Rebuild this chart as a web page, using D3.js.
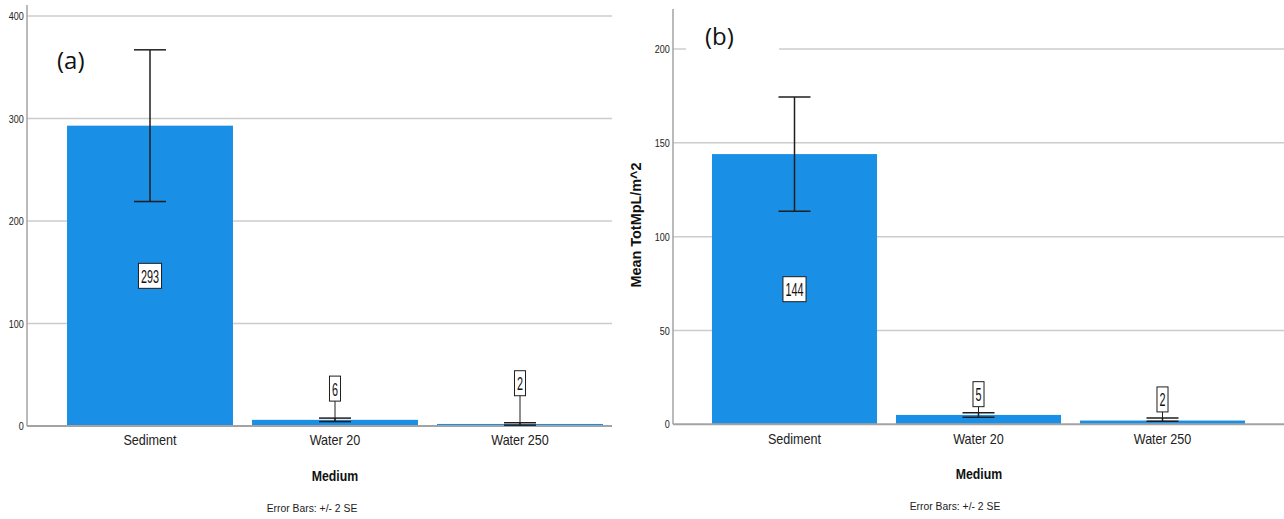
<!DOCTYPE html>
<html>
<head>
<meta charset="utf-8">
<script src="https://cdn.jsdelivr.net/npm/d3@7"></script>
<style>
  html, body { margin: 0; padding: 0; background: #fff; }
  svg { display: block; font-family: "Liberation Sans", Arial, sans-serif; }
</style>
</head>
<body>
<svg id="chart" width="1284" height="519"></svg>
<script>
// Categories shared by both panels
const categories = ["Sediment", "Water 20", "Water 250"];

// Panel (a): mean counts and +/- 2 SE limits
const meansA = [293, 6, 2];
const errLowA = [219, 4.3, 0.8];
const errHighA = [367, 7.7, 3.2];
const ticksA = [0, 100, 200, 300, 400];

// Panel (b): mean TotMpL/m^2 and +/- 2 SE limits
const meansB = [144, 5, 2];
const errLowB = [113.6, 3.7, 1.6];
const errHighB = [174.4, 6.2, 3.4];
const ticksB = [0, 50, 100, 150, 200];

const svg = d3.select("#chart");
const BAR = "#1a8fe6";
const GRID = "#cccccc";
const AXIS = "#a3a3a3";
const INK = "#1e1e1e";

function drawPanel(p) {
  const g = svg.append("g");
  const y = d3.scaleLinear().domain([0, p.ticks[p.ticks.length - 1]]).range(p.yRange);
  const x = d3.scaleBand().domain(categories).range(p.xRange)
    .paddingInner(p.pad).paddingOuter(p.pad / 2);

  // gridlines
  g.selectAll("line.grid").data(p.ticks.filter(t => t > 0)).join("line")
    .attr("class", "grid")
    .attr("x1", p.axisX).attr("x2", p.right)
    .attr("y1", d => y(d)).attr("y2", d => y(d))
    .attr("stroke", GRID).attr("stroke-width", 1.5);

  // panel tag with white backing
  if (p.tagBack) {
    g.append("rect").attr("x", p.tagBack[0]).attr("y", p.tagBack[1])
      .attr("width", p.tagBack[2]).attr("height", p.tagBack[3]).attr("fill", "#fff");
  }
  g.append("text").attr("x", p.tagPos[0]).attr("y", p.tagPos[1])
    .attr("font-family", "'Open Sans', 'Noto Sans', sans-serif")
    .attr("font-size", 24).attr("fill", "#111").text(p.tag);

  // y axis
  const ax = g.append("g").attr("transform", `translate(${p.axisX},0)`)
    .call(d3.axisLeft(y).tickValues(p.ticks).tickSize(0).tickPadding(4));
  ax.select(".domain").remove();
  ax.selectAll("text")
    .attr("font-family", "'Liberation Sans', Arial, sans-serif")
    .attr("font-size", 11).attr("fill", "#222")
    .attr("transform", "scale(0.82,1)");
  g.append("line").attr("x1", p.axisX).attr("x2", p.axisX)
    .attr("y1", y(0)).attr("y2", p.axisTop)
    .attr("stroke", AXIS).attr("stroke-width", 1.5);

  // bars
  g.selectAll("rect.bar").data(categories).join("rect")
    .attr("class", "bar")
    .attr("x", d => x(d)).attr("width", x.bandwidth())
    .attr("y", (d, i) => y(p.means[i]))
    .attr("height", (d, i) => y(0) - y(p.means[i]))
    .attr("fill", BAR);

  // x axis baseline
  g.append("line").attr("x1", p.axisX).attr("x2", p.right)
    .attr("y1", y(0)).attr("y2", y(0))
    .attr("stroke", AXIS).attr("stroke-width", 2);

  // error bars
  const cap = 16;
  categories.forEach((c, i) => {
    const cx = x(c) + x.bandwidth() / 2;
    const eg = g.append("g").attr("stroke", INK).attr("stroke-width", 1.5);
    eg.append("line").attr("x1", cx).attr("x2", cx)
      .attr("y1", y(p.lo[i])).attr("y2", y(p.hi[i]));
    eg.append("line").attr("x1", cx - cap).attr("x2", cx + cap)
      .attr("y1", y(p.hi[i])).attr("y2", y(p.hi[i]));
    eg.append("line").attr("x1", cx - cap).attr("x2", cx + cap)
      .attr("y1", y(p.lo[i])).attr("y2", y(p.lo[i]));
  });

  // value labels
  const boxH = 25;
  categories.forEach((c, i) => {
    const cx = x(c) + x.bandwidth() / 2;
    const barH = y(0) - y(p.means[i]);
    let cy;
    const lg = g.append("g");
    if (barH > boxH + 6) {
      cy = y(p.means[i] / 2);
    } else {
      const bottom = y(p.hi[i]) - p.lead[i];
      cy = bottom - boxH / 2;
      lg.append("line").attr("x1", cx).attr("x2", cx)
        .attr("y1", bottom).attr("y2", y(p.means[i]))
        .attr("stroke", INK).attr("stroke-width", 1);
    }
    const label = String(p.means[i]);
    const rect = lg.append("rect").attr("fill", "#fff").attr("stroke", INK).attr("stroke-width", 1);
    const t = lg.append("text")
      .attr("font-family", "'Liberation Sans', Arial, sans-serif")
      .attr("font-size", 19).attr("fill", "#111")
      .attr("text-anchor", "middle")
      .attr("transform", `translate(${cx},${cy + 7}) scale(0.57,1)`)
      .text(label);
    const w = t.node().getComputedTextLength() * 0.57 + 5;
    rect.attr("x", cx - w / 2).attr("y", cy - boxH / 2).attr("width", w).attr("height", boxH);
  });

  // category labels
  g.selectAll("text.cat").data(categories).join("text")
    .attr("class", "cat")
    .attr("text-anchor", "middle")
    .attr("font-size", 14).attr("fill", "#222")
    .attr("transform", d => `translate(${x(d) + x.bandwidth() / 2},${p.catY}) scale(0.9,1)`)
    .text(d => d);

  // axis title and footnote
  g.append("text").attr("text-anchor", "middle")
    .attr("font-size", 15).attr("font-weight", "bold").attr("fill", "#111")
    .attr("transform", `translate(${p.titleX},${p.titleY}) scale(0.82,1)`)
    .text("Medium");
  g.append("text").attr("text-anchor", "middle")
    .attr("font-size", 11.5).attr("fill", "#222")
    .attr("transform", `translate(${p.noteX},${p.noteY}) scale(0.9,1)`)
    .text("Error Bars: +/- 2 SE");

  if (p.yTitle) {
    g.append("text").attr("text-anchor", "middle")
      .attr("font-size", 14).attr("font-weight", "bold").attr("fill", "#111")
      .attr("transform", `translate(${p.yTitle[0]},${p.yTitle[1]}) rotate(-90) scale(1.03,1)`)
      .text(p.yTitle[2]);
  }
}

drawPanel({
  means: meansA, lo: errLowA, hi: errHighA, ticks: ticksA,
  yRange: [426, 16], xRange: [57.5, 612.5], pad: 0.103,
  axisX: 27, axisTop: 5, right: 612,
  lead: [0, 17, 27],
  tag: "(a)", tagPos: [57, 69],
  catY: 445, titleX: 335, titleY: 481, noteX: 312, noteY: 512
});

drawPanel({
  means: meansB, lo: errLowB, hi: errHighB, ticks: ticksB,
  yRange: [424.3, 49], xRange: [702.5, 1254.5], pad: 0.103,
  axisX: 673, axisTop: 9, right: 1284,
  lead: [0, 6, 6],
  tag: "(b)", tagPos: [705, 45], tagBack: [686, 20, 93, 36],
  catY: 444, titleX: 979, titleY: 479, noteX: 955, noteY: 510,
  yTitle: [641, 225, "Mean TotMpL/m^2"]
});
</script>
</body>
</html>
